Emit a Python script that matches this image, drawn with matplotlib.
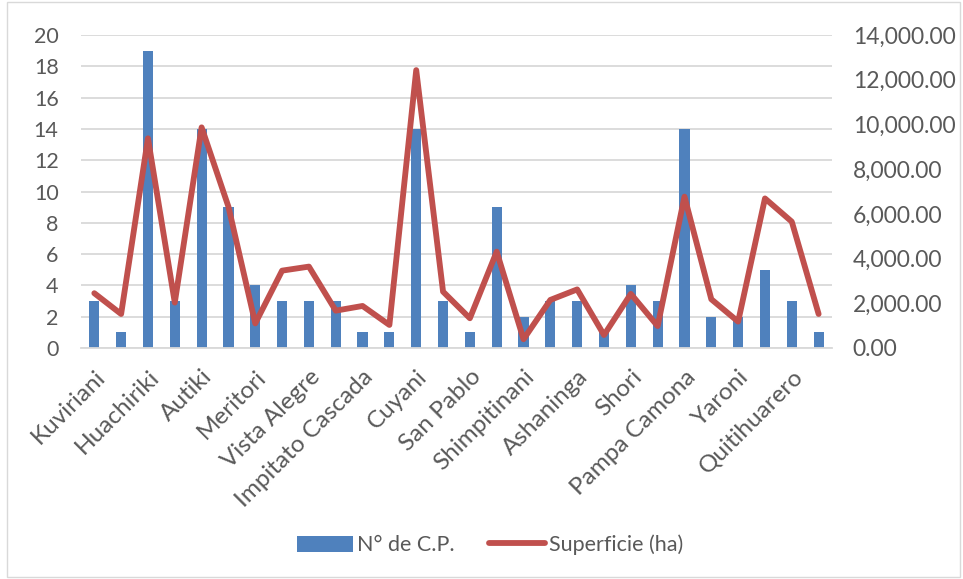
import matplotlib.pyplot as plt
import matplotlib.transforms as mtransforms
import numpy as np
from matplotlib.patches import Rectangle

plt.rcParams['font.family'] = ['Lato', 'DejaVu Sans']

# every other community name is printed on the axis
tick_labels = ['Kuviriani', 'Huachiriki', 'Autiki', 'Meritori', 'Vista Alegre',
               'Impitato Cascada', 'Cuyani', 'San Pablo', 'Shimpitinani',
               'Ashaninga', 'Shori', 'Pampa Camona', 'Yaroni', 'Quitihuarero']
n_cp = [3, 1, 19, 3, 14, 9, 4, 3, 3, 3, 1, 1, 14, 3,
        1, 9, 2, 3, 3, 1, 4, 3, 14, 2, 2, 5, 3, 1]
superficie = [2450, 1520, 9380, 2030, 9870, 6320, 1100, 3460, 3640, 1670,
              1880, 1030, 12430, 2520, 1330, 4310, 390, 2150, 2620, 580,
              2420, 980, 6770, 2180, 1180, 6690, 5650, 1520]

blue = '#4F81BD'
red = '#C0504D'
grey = '#595959'
grid = '#D9D9D9'

x = np.arange(len(n_cp))

fig = plt.figure(figsize=(9.63, 5.79), dpi=100)
ax = fig.add_axes([0.084, 0.399, 0.780, 0.5405])
ax2 = ax.twinx()

bars = ax.bar(x, n_cp, width=0.38, color=blue, zorder=2, label='N° de C.P.')
line, = ax2.plot(x, superficie, color=red, lw=4.2, solid_capstyle='round',
                 solid_joinstyle='round', label='Superficie (ha)')

ax.set_xlim(-0.5, len(n_cp) - 0.5)
ax.set_ylim(0, 20)
ax.set_yticks(range(0, 21, 2))
ax2.set_ylim(0, 14000)
ax2.set_yticks(range(0, 14001, 2000))
ax2.set_yticklabels([f'{v:,.2f}' for v in range(0, 14001, 2000)])

ax.set_xticks(x[::2])
ax.set_xticklabels(tick_labels, rotation=45, ha='right', va='top',
                   rotation_mode='anchor')
# nudge the slanted names a little to the right of their ticks
shift = mtransforms.ScaledTranslation(6 / 72, 0, fig.dpi_scale_trans)
for lbl in ax.get_xticklabels():
    lbl.set_transform(lbl.get_transform() + shift)

ax.yaxis.grid(True, color=grid, lw=1.3, zorder=0)
ax.set_axisbelow(True)
for a in (ax, ax2):
    for s in ['top', 'left', 'right', 'bottom']:
        a.spines[s].set_visible(False)
    a.tick_params(length=0, labelsize=15.5, labelcolor=grey)
ax.spines['bottom'].set_visible(True)
ax.spines['bottom'].set_color(grid)
ax.spines['bottom'].set_linewidth(1.3)
ax.tick_params(axis='y', pad=16)
ax.tick_params(axis='x', pad=13, labelsize=17.5)
ax2.tick_params(axis='y', pad=15, labelsize=16.5)

fig.legend(handles=[bars, line], loc='center', bbox_to_anchor=(0.509, 0.059),
           ncol=2, frameon=False, fontsize=15.5, labelcolor=grey,
           handlelength=2.6, handleheight=0.75, columnspacing=1.6, handletextpad=0.2)

# light frame round the chart
fig.patches.append(Rectangle((0.007, 0.004), 0.99, 0.992, transform=fig.transFigure,
                             fill=False, edgecolor=grid, lw=1.0))

plt.savefig('out.png', dpi=100)
